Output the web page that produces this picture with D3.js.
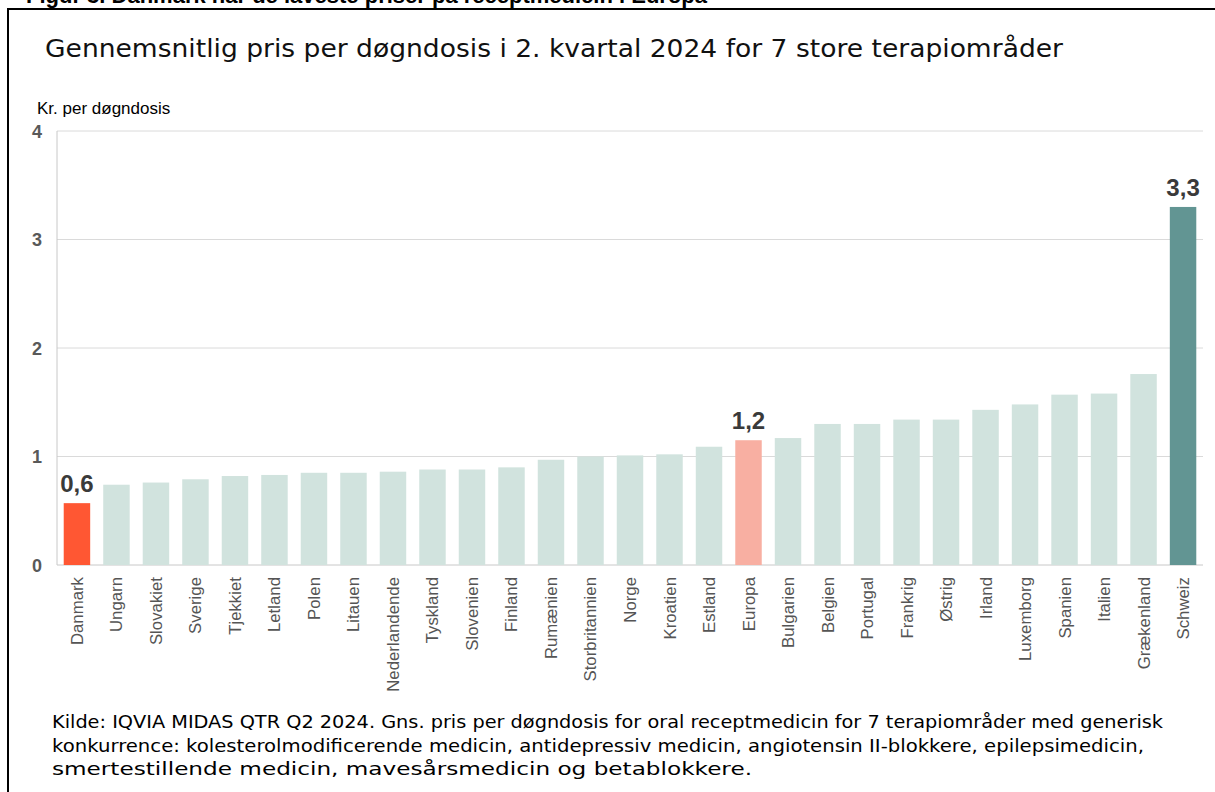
<!DOCTYPE html>
<html><head><meta charset="utf-8">
<script src="https://cdn.jsdelivr.net/npm/d3@7"></script>
<style>body{margin:0;background:#fff;} svg{display:block;}</style>
</head><body>
<svg id="c" width="1215" height="792"></svg>
<script>
const categories = ["Danmark","Ungarn","Slovakiet","Sverige","Tjekkiet","Letland","Polen","Litauen","Nederlandende","Tyskland","Slovenien","Finland","Rumænien","Storbritannien","Norge","Kroatien","Estland","Europa","Bulgarien","Belgien","Portugal","Frankrig","Østrig","Irland","Luxemborg","Spanien","Italien","Grækenland","Schweiz"];
const values = [0.57,0.74,0.76,0.79,0.82,0.83,0.85,0.85,0.86,0.88,0.88,0.90,0.97,1.00,1.01,1.02,1.09,1.15,1.17,1.30,1.30,1.34,1.34,1.43,1.48,1.57,1.58,1.76,3.30];
const yTicks = [0,1,2,3,4];
const labelled = {"Danmark":"0,6","Europa":"1,2","Schweiz":"3,3"};
const highlightColors = {"Danmark":"#FF5733","Europa":"#F8AFA2","Schweiz":"#629593"};
const baseColor = "#D1E3DE";
const title = "Gennemsnitlig pris per døgndosis i 2. kvartal 2024 for 7 store terapiområder";
const yLabel = "Kr. per døgndosis";
const notes = ["Kilde: IQVIA MIDAS QTR Q2 2024. Gns. pris per døgndosis for oral receptmedicin for 7 terapiområder med generisk",
 "konkurrence: kolesterolmodificerende medicin, antidepressiv medicin, angiotensin II-blokkere, epilepsimedicin,",
 "smertestillende medicin, mavesårsmedicin og betablokkere."];
const figTitle = "Figur 3. Danmark har de laveste priser på receptmedicin i Europa";

const svg = d3.select("#c");
// figure title, cut off at the top edge as in the reference
svg.append("text").attr("x",26).attr("y",3).attr("font-family","Liberation Sans, Arial").attr("font-weight","bold")
  .attr("font-size",22).attr("fill","#000").text(figTitle);
// frame
svg.append("rect").attr("x",8).attr("y",9).attr("width",1220).attr("height",800)
  .attr("fill","#fff").attr("stroke","#000").attr("stroke-width",2);

svg.append("text").attr("x",45).attr("y",57).attr("font-family","DejaVu Sans, Verdana").attr("font-size",24.5)
  .attr("fill","#111").attr("textLength",1018).attr("lengthAdjust","spacingAndGlyphs").text(title);
svg.append("text").attr("x",37).attr("y",114).attr("font-family","Liberation Sans, Arial").attr("font-size",17)
  .attr("fill","#000").text(yLabel);

const x = d3.scaleBand().domain(categories).range([57,1203]).paddingInner(0.33).paddingOuter(0.17);
const y = d3.scaleLinear().domain([0,4]).range([565,131]);

const g = svg.append("g");
g.selectAll("line.grid").data(yTicks).join("line").attr("class","grid")
  .attr("x1",57).attr("x2",1203).attr("y1",d=>y(d)).attr("y2",d=>y(d))
  .attr("stroke",d=>d===0?"#c8c8c8":"#dadada").attr("stroke-width",1);
g.append("line").attr("x1",57).attr("x2",57).attr("y1",y(4)).attr("y2",y(0)).attr("stroke","#c8c8c8");

g.selectAll("text.yt").data(yTicks).join("text").attr("class","yt")
  .attr("x",37).attr("y",d=>y(d)+6.5).attr("text-anchor","middle")
  .attr("font-family","Liberation Sans, Arial").attr("font-weight","bold").attr("font-size",18)
  .attr("fill","#595959").text(d=>d);

g.selectAll("rect.bar").data(categories).join("rect").attr("class","bar")
  .attr("x",d=>x(d)).attr("width",x.bandwidth())
  .attr("y",(d,i)=>y(values[i])).attr("height",(d,i)=>y(0)-y(values[i]))
  .attr("fill",d=>highlightColors[d]||baseColor);

g.selectAll("text.vl").data(categories.filter(c=>labelled[c])).join("text").attr("class","vl")
  .attr("x",d=>x(d)+x.bandwidth()/2).attr("y",d=>y(values[categories.indexOf(d)])-11)
  .attr("text-anchor","middle").attr("font-family","Liberation Sans, Arial").attr("font-weight","bold")
  .attr("font-size",24).attr("fill","#3a3a3a").text(d=>labelled[d]);

g.selectAll("text.cat").data(categories).join("text").attr("class","cat")
  .attr("transform",d=>`translate(${x(d)+x.bandwidth()/2+6},577) rotate(-90)`)
  .attr("text-anchor","end").attr("font-family","Liberation Sans, Arial").attr("font-size",16.8)
  .attr("fill","#555").text(d=>d);

const lengths = [1111, 1092, 700];
svg.selectAll("text.note").data(notes).join("text").attr("class","note")
  .attr("x",52).attr("y",(d,i)=>728+i*23.5).attr("font-family","DejaVu Sans, Verdana").attr("font-size",18)
  .attr("fill","#000").attr("textLength",(d,i)=>lengths[i]).attr("lengthAdjust","spacingAndGlyphs").text(d=>d);
</script>
</body></html>
